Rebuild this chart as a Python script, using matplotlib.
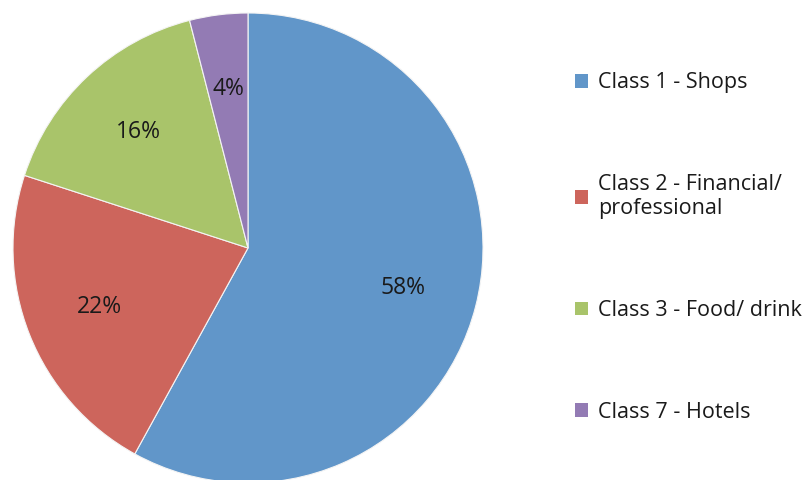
import matplotlib.pyplot as plt
from matplotlib.patches import Patch

# data
labels = ['Class 1 - Shops', 'Class 2 - Financial/\nprofessional',
          'Class 3 - Food/ drink', 'Class 7 - Hotels']
shares = [58, 22, 16, 4]
colors = ['#6196c9', '#cd655c', '#a9c46a', '#937bb4']

plt.rcParams['font.family'] = ['Open Sans', 'DejaVu Sans']

fig = plt.figure(figsize=(8.11, 4.8), dpi=100)
ax = fig.add_axes([13 / 811, -3 / 480, 470 / 811, 470 / 480])

wedges, texts, autotexts = ax.pie(
    shares, colors=colors, startangle=90, counterclock=False,
    autopct='%d%%', pctdistance=0.68,
    wedgeprops=dict(edgecolor='#f4f4f4', linewidth=0.8),
    textprops=dict(fontsize=16.5, color='#1a1a1a'))
ax.set_xlim(-1, 1)
ax.set_ylim(-1, 1)
ax.set_aspect('equal')

handles = [Patch(facecolor=c, edgecolor='none') for c in colors]
fig.legend(handles, labels, loc='upper left', bbox_to_anchor=(556 / 811, 1 - 53 / 480),
           frameon=False, fontsize=15.5, labelspacing=3.75,
           handlelength=0.6, handleheight=0.6, handletextpad=0.45,
           labelcolor='#1a1a1a')

fig.savefig('out.png', dpi=100)
